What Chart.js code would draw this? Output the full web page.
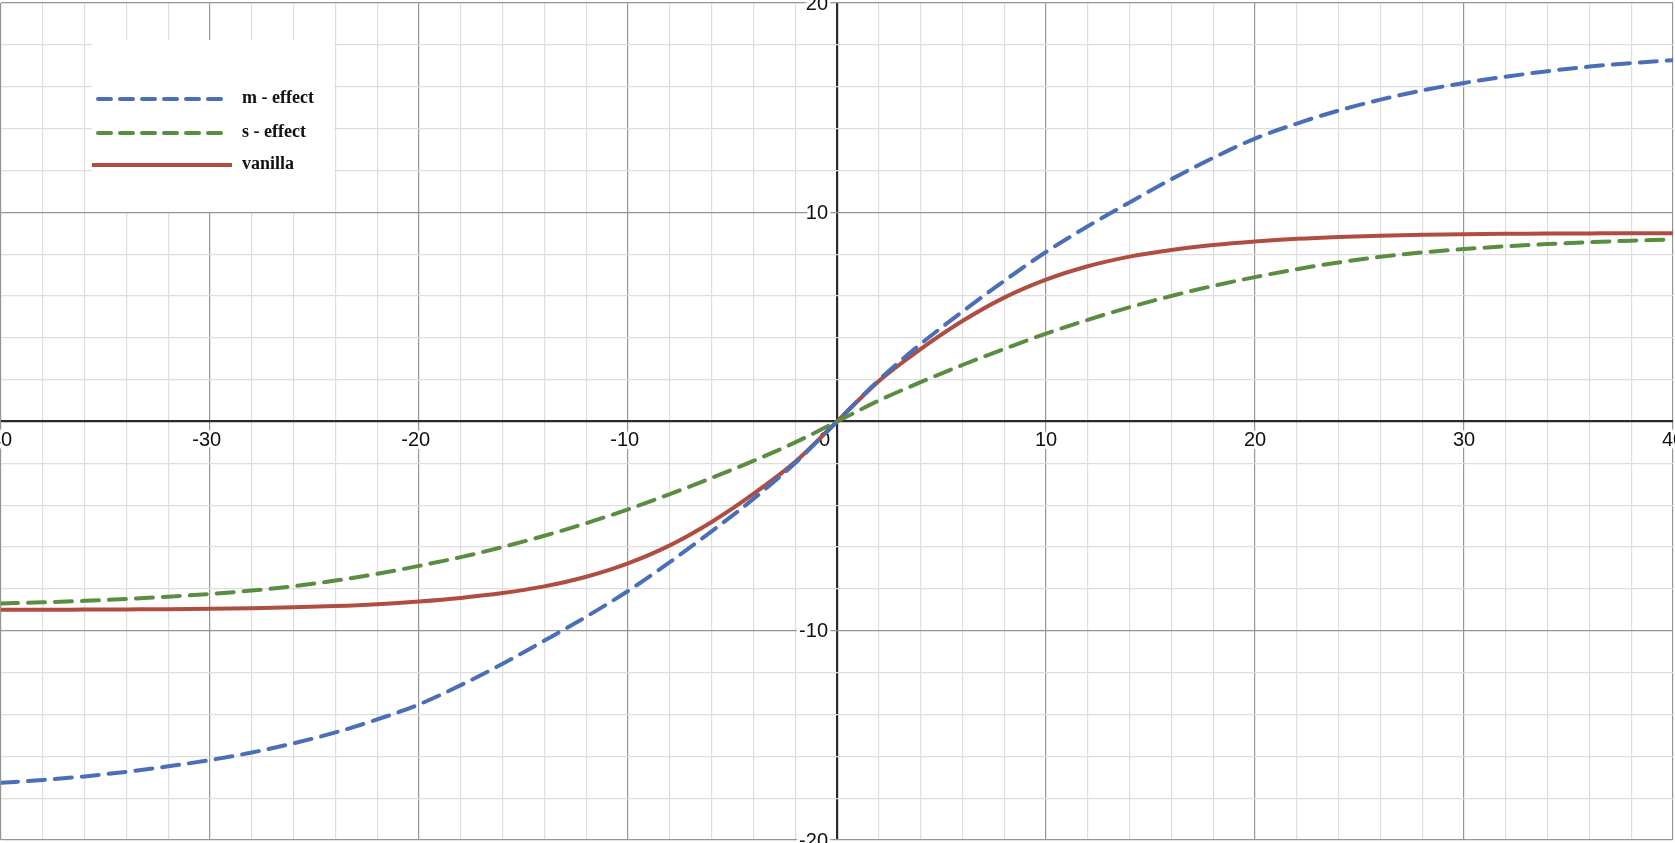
<!DOCTYPE html>
<html>
<head>
<meta charset="utf-8">
<script src="https://cdn.jsdelivr.net/npm/chart.js@4.4.0/dist/chart.umd.min.js"></script>
<style>
  html, body { margin: 0; padding: 0; background: #fff; overflow: hidden; }
  canvas { display: block; }
</style>
</head>
<body>
<canvas id="myChart" width="1675" height="843"></canvas>
<script>
const xValues = [
  -40, -38, -36, -34, -32, -30, -28, -26, -24, -22, -20, -18, -16, -14, -12, -10, -8, -6, -4, -2,
  0, 2, 4, 6, 8, 10, 12, 14, 16, 18, 20, 22, 24, 26, 28, 30, 32, 34, 36, 38, 40
];

const mEffect = [
  -17.27, -17.13, -16.96, -16.74, -16.48, -16.18, -15.82, -15.38, -14.86, -14.24, -13.52, -12.6, -11.58, -10.47, -9.33, -8.1, -6.72, -5.25, -3.7, -1.98,
  0, 1.98, 3.7, 5.25, 6.72, 8.1, 9.33, 10.47, 11.58, 12.6, 13.52, 14.24, 14.86, 15.38, 15.82, 16.18, 16.48, 16.74, 16.96, 17.13, 17.27
];

const sEffect = [
  -8.7, -8.64, -8.57, -8.48, -8.37, -8.24, -8.08, -7.87, -7.6, -7.28, -6.9, -6.48, -6.0, -5.46, -4.86, -4.2, -3.47, -2.7, -1.88, -1.0,
  0, 1.0, 1.88, 2.7, 3.47, 4.2, 4.86, 5.46, 6.0, 6.48, 6.9, 7.28, 7.6, 7.87, 8.08, 8.24, 8.37, 8.48, 8.57, 8.64, 8.7
];

const vanilla = [
  -9.0, -9.0, -8.99, -8.98, -8.97, -8.95, -8.92, -8.88, -8.82, -8.73, -8.6, -8.43, -8.2, -7.88, -7.42, -6.78, -5.92, -4.8, -3.46, -1.93,
  0, 1.93, 3.46, 4.8, 5.92, 6.78, 7.42, 7.88, 8.2, 8.43, 8.6, 8.73, 8.82, 8.88, 8.92, 8.95, 8.97, 8.98, 8.99, 9.0, 9.0
];

const xTickLabels = [-40, -30, -20, -10, 10, 20, 30, 40];
const yTickLabels = [-20, -10, 10, 20];

const toPoints = (ys) => xValues.map((x, i) => ({ x: x, y: ys[i] }));

const gridColor = (c) => {
  const v = c.tick.value;
  if (v === 0) return '#2a2a2a';
  if (v % 10 === 0) return '#959595';
  return '#dedede';
};
const gridWidth = (c) => (c.tick.value === 0 ? 2.2 : 1.2);

const labelFont = '20px "Liberation Sans", Arial, sans-serif';

function haloText(ctx, text, x, y) {
  ctx.strokeStyle = '#ffffff';
  ctx.lineWidth = 6;
  ctx.lineJoin = 'round';
  ctx.strokeText(text, x, y);
  ctx.fillStyle = '#111111';
  ctx.fillText(text, x, y);
}

const overlay = {
  id: 'overlay',
  beforeDraw(chart) {
    const ctx = chart.ctx;
    ctx.save();
    ctx.fillStyle = '#ffffff';
    ctx.fillRect(0, 0, chart.width, chart.height);
    ctx.restore();
  },
  beforeDatasetsDraw(chart) {
    const { ctx, scales: { x, y } } = chart;
    const x0 = x.getPixelForValue(0);
    const y0 = y.getPixelForValue(0);
    ctx.save();
    ctx.font = labelFont;
    ctx.textAlign = 'right';
    ctx.textBaseline = 'alphabetic';
    // x labels: digits centred on the grid line, minus sign hangs left
    xTickLabels.forEach(v => {
      const px = x.getPixelForValue(v);
      const digits = String(Math.abs(v));
      const w = ctx.measureText(digits).width;
      haloText(ctx, (v < 0 ? '-' : '') + digits, px + w / 2, y0 + 24);
    });
    // y labels to the left of the axis
    ctx.textBaseline = 'middle';
    yTickLabels.forEach(v => {
      haloText(ctx, String(v), x0 - 9, y.getPixelForValue(v) + 1);
    });
    ctx.textBaseline = 'alphabetic';
    haloText(ctx, '0', x0 - 7, y0 + 24);
    ctx.restore();
  },
  afterDatasetsDraw(chart) {
    const ctx = chart.ctx;
    ctx.save();
    ctx.fillStyle = '#ffffff';
    ctx.fillRect(92, 40, 242, 172);
    const rows = [
      { ds: chart.data.datasets[0], y: 99, x1: 98, x2: 230 },
      { ds: chart.data.datasets[1], y: 133, x1: 98, x2: 230 },
      { ds: chart.data.datasets[2], y: 165, x1: 92, x2: 232 }
    ];
    ctx.font = 'bold 18px "Liberation Serif", "Times New Roman", serif';
    ctx.textAlign = 'left';
    ctx.textBaseline = 'alphabetic';
    rows.forEach(r => {
      ctx.strokeStyle = r.ds.borderColor;
      ctx.lineWidth = 4;
      ctx.lineCap = r.ds.borderDash.length ? 'round' : 'butt';
      ctx.setLineDash(r.ds.borderDash.length ? [13, 9] : []);
      ctx.beginPath();
      ctx.moveTo(r.x1, r.y);
      ctx.lineTo(r.x2, r.y);
      ctx.stroke();
      ctx.setLineDash([]);
      ctx.fillStyle = '#111111';
      ctx.fillText(r.ds.label, 242, r.y + 4);
    });
    ctx.restore();
  }
};

const data = {
  datasets: [
    {
      label: 'm - effect',
      data: toPoints(mEffect),
      borderColor: '#4a6fb8',
      borderWidth: 4,
      borderDash: [17, 10],
      borderCapStyle: 'round',
      order: 1
    },
    {
      label: 's - effect',
      data: toPoints(sEffect),
      borderColor: '#5b8d41',
      borderWidth: 4,
      borderDash: [17, 10],
      borderCapStyle: 'round',
      order: 0
    },
    {
      label: 'vanilla',
      data: toPoints(vanilla),
      borderColor: '#b04d41',
      borderWidth: 4,
      borderDash: [],
      order: 2
    }
  ]
};

const config = {
  type: 'line',
  data: data,
  options: {
    responsive: false,
    animation: false,
    layout: { padding: { left: 1, right: 2, top: 3, bottom: 3 } },
    elements: {
      point: { radius: 0, hoverRadius: 0 },
      line: { cubicInterpolationMode: 'monotone', fill: false }
    },
    plugins: {
      legend: { display: false },
      tooltip: { enabled: false }
    },
    scales: {
      x: {
        type: 'linear',
        min: -40,
        max: 40,
        ticks: { display: false, stepSize: 2 },
        border: { display: false },
        grid: { color: gridColor, lineWidth: gridWidth, drawTicks: false }
      },
      y: {
        type: 'linear',
        min: -20,
        max: 20,
        ticks: { display: false, stepSize: 2 },
        border: { display: false },
        grid: { color: gridColor, lineWidth: gridWidth, drawTicks: false }
      }
    }
  },
  plugins: [overlay]
};

const myChart = new Chart(document.getElementById('myChart').getContext('2d'), config);
</script>
</body>
</html>
